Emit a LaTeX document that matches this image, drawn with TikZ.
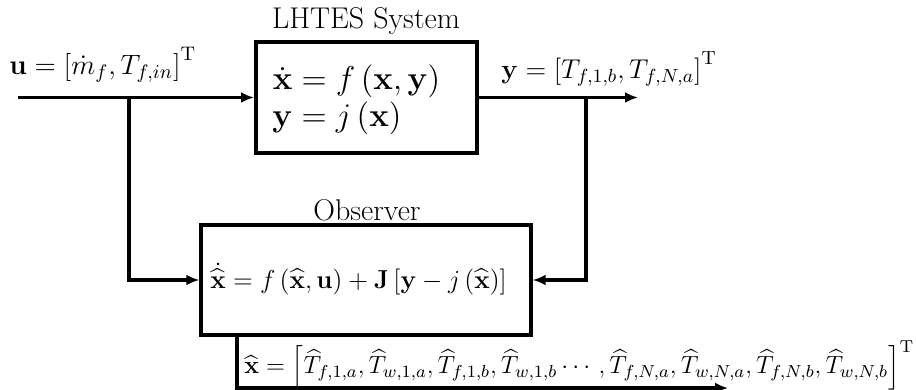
\RequirePackage{fix-cm}
\documentclass[tikz,border=0pt]{standalone}
\usepackage{amsmath,amssymb}
\usetikzlibrary{arrows.meta,calc}
\begin{document}
\begin{tikzpicture}[x=0.5pt,y=-0.5pt,
  every node/.style={font=\fontsize{13}{15}\selectfont, inner sep=0pt},
  titletext/.style={font=\fontsize{15}{17}\selectfont},
  blockbox/.style={draw, line width=2pt, rectangle, inner sep=0pt},
  conn/.style={line width=1.7pt, -{Latex[length=6.5pt,width=5.5pt]}}]
\useasboundingbox (0,0) rectangle (916,390);
% blocks
\node[blockbox, minimum width=110.5pt, minimum height=55.5pt] (sys) at (366.5,97.5) {};
\node[anchor=west, font=\fontsize{16.5}{17}\selectfont] (syseq) at (272,101) {$\begin{aligned}\dot{\mathbf x}&=f\left(\mathbf x,\mathbf y\right)\\[-3pt] \mathbf y&=j\left(\mathbf x\right)\end{aligned}$};
\node[titletext] (systitle) at (366,21) {LHTES System};
\node[blockbox, line width=1.7pt, minimum width=165pt, minimum height=55pt] (obs) at (366,280) {};
\node[anchor=west] (obseq) at (210,279) {$\dot{\widehat{\mathbf x}}=f\left(\widehat{\mathbf x},\mathbf u\right)+\mathbf J\left[\mathbf y-j\left(\widehat{\mathbf x}\right)\right]$};
\node[titletext] (obstitle) at (367,210) {Observer};
% labels
\node[anchor=west, font=\fontsize{14}{16}\selectfont] (ulabel) at (9,65) {$\mathbf u=\left[\dot m_f,T_{f,in}\right]^{\mathrm T}$};
\node[anchor=west, font=\fontsize{13.6}{15}\selectfont] (ylabel) at (501,69) {$\mathbf y=\left[T_{f,1,b},T_{f,N,a}\right]^{\mathrm T}$};
\node[anchor=west, font=\fontsize{12.4}{14}\selectfont] (xlabel) at (244,365) {$\widehat{\mathbf x}=\left[\widehat{T}_{f,1,a},\widehat{T}_{w,1,a},\widehat{T}_{f,1,b},\widehat{T}_{w,1,b}\cdots,\widehat{T}_{f,N,a},\widehat{T}_{w,N,a},\widehat{T}_{f,N,b},\widehat{T}_{w,N,b}\right]^{\mathrm T}$};
% coordinates
\coordinate (uin) at (18,97.5);
\coordinate (b1) at (129,97.5);
\coordinate (yout) at (638,97.5);
\coordinate (b2) at (586,97.5);
\coordinate (xs) at (237,335);
\coordinate (xc) at (237,388);
\coordinate (xout) at (728,388);
% connectors
\draw[conn] (uin) -- (sys.west);
\draw[conn] (b1) |- (obs.west);
\draw[conn] (sys.east) -- (yout);
\draw[conn] (b2) |- (obs.east);
\draw[conn] (xs) -- (xc) -- (xout);
\end{tikzpicture}
\end{document}
